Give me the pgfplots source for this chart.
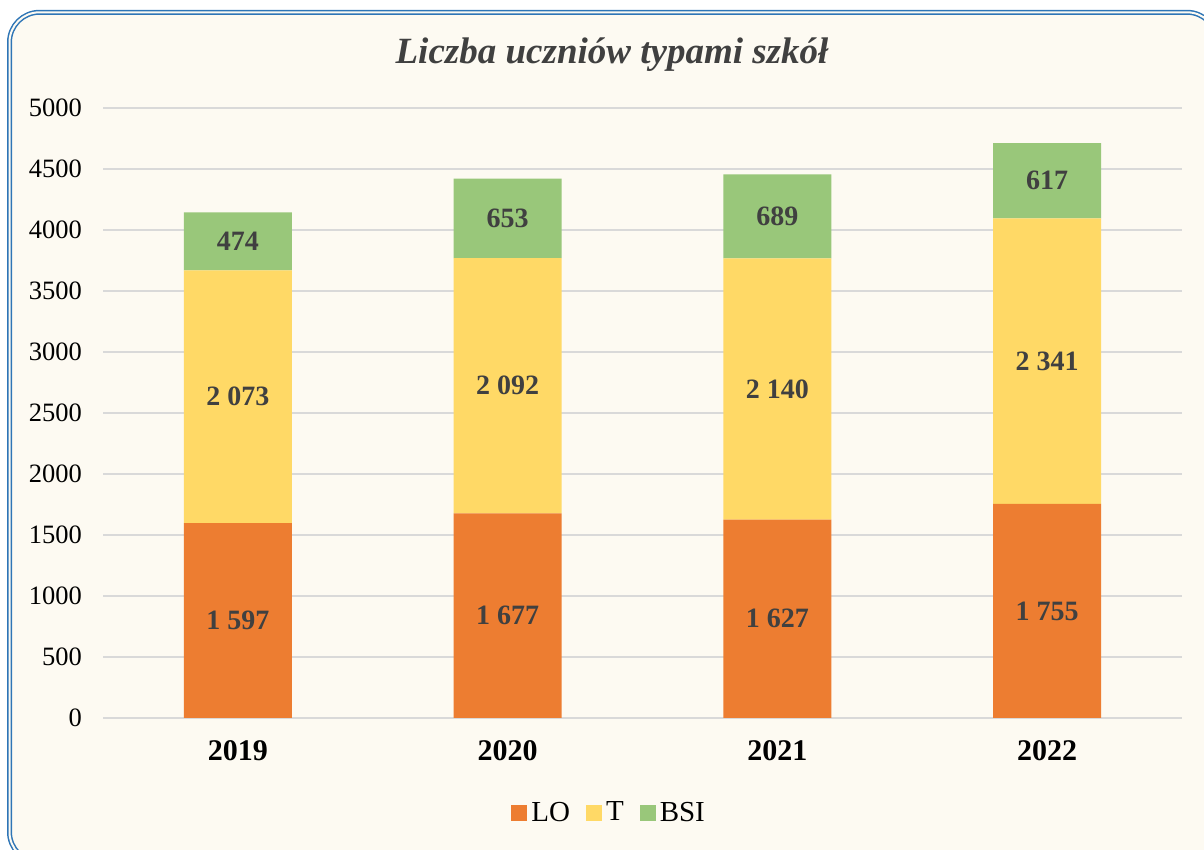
\documentclass[border=0pt]{standalone}
\usepackage{fontspec}
\setmainfont{Liberation Serif}
\usepackage{pgfplots}
\pgfplotsset{compat=1.18}
\usepackage{pgfplotstable}
\definecolor{bg}{HTML}{FDFAF2}
\definecolor{frame}{HTML}{2E75B6}
\definecolor{cLO}{HTML}{ED7D31}
\definecolor{cT}{HTML}{FFD966}
\definecolor{cBSI}{HTML}{99C77A}
\definecolor{gridc}{HTML}{D9D9D9}
\definecolor{lbl}{HTML}{404040}

\pgfplotstableread{
x v
0 1597
1 1677
2 1627
3 1755
}\LO
\pgfplotstableread{
x v
0 2073
1 2092
2 2140
3 2341
}\T
\pgfplotstableread{
x v
0 474
1 653
2 689
3 617
}\BSI

\begin{document}
\begin{tikzpicture}[x=1pt,y=1pt]
\path[use as bounding box] (0,0) rectangle (602,425);
\draw[fill=bg, draw=frame, line width=0.75pt, double=bg, double distance=1pt, rounded corners=15pt]
  (4.75,-6) rectangle (608.5,418.85);
\begin{axis}[
  at={(51.5pt,66pt)}, anchor=south west,
  scale only axis, width=539.5pt, height=305pt,
  ybar stacked, bar width=0.4,
  xmin=-0.5, xmax=3.5, ymin=0, ymax=5000,
  xtick={0,1,2,3}, xticklabels={2019,2020,2021,2022},
  ytick={0,500,...,5000},
  axis line style={draw=none},
  major tick length=0pt,
  ymajorgrids, xmajorgrids=false, grid style={draw=gridc, line width=0.75pt},
  /pgf/number format/assume math mode=true,
  yticklabel style={font=\fontsize{13.25}{15}\selectfont, xshift=-7pt, /pgf/number format/1000 sep={}},
  xticklabel style={font=\fontsize{15}{17}\selectfont\bfseries, yshift=-7.5pt},
  legend style={at={(0.47,-0.1557)}, anchor=center, draw=none, fill=none,
    legend columns=-1, font=\fontsize{14.5}{16}\selectfont,
    /tikz/every even column/.append style={column sep=6pt}},
  legend image code/.code={\fill[#1] (0pt,-4pt) rectangle (8pt,4pt);},
  nodes near coords,
  point meta=explicit,
  every node near coord/.append style={anchor=center, font=\fontsize{14}{16}\selectfont\bfseries, text=lbl,
    /pgf/number format/1000 sep={\ }, /pgf/number format/assume math mode=true},
]
\addplot[fill=cLO, draw=none] table[x=x, y=v, meta=v] {\LO};
\addplot[fill=cT, draw=none] table[x=x, y=v, meta=v] {\T};
\addplot[fill=cBSI, draw=none] table[x=x, y=v, meta=v] {\BSI};
\legend{LO,T,BSI}
\end{axis}
\node[font=\fontsize{18.5}{21}\selectfont\bfseries\itshape, text=lbl] at (306,397.5) {Liczba uczniów typami szkół};
\end{tikzpicture}
\end{document}
